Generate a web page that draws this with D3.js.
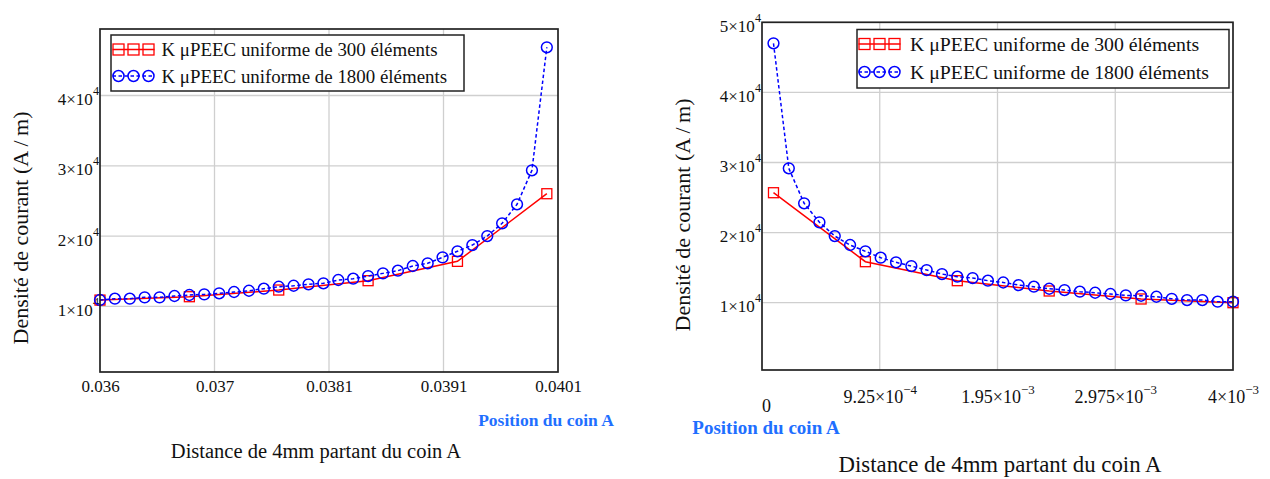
<!DOCTYPE html>
<html>
<head>
<meta charset="utf-8">
<script src="https://cdn.jsdelivr.net/npm/d3@7"></script>
<style>
  html, body { margin: 0; padding: 0; background: #fff; }
  svg { display: block; font-family: "Liberation Serif", "Times New Roman", serif; }
  svg text { font-family: "Liberation Serif", "Times New Roman", serif; }
</style>
</head>
<body>
<svg id="chart" width="1270" height="479"></svg>
<script>
// ---------------- DATA ----------------
const seriesNames = ["K \u03bcPEEC uniforme de 300 \u00e9l\u00e9ments", "K \u03bcPEEC uniforme de 1800 \u00e9l\u00e9ments"];

// Left chart (x in m)
const leftX300 = [0.036, 0.0368, 0.0376, 0.0384, 0.0392, 0.0400];
const leftK300 = [10900, 11380, 12330, 13660, 16410, 26030];
const leftX1800 = [0.036, 0.0361333, 0.0362667, 0.0364, 0.0365333, 0.0366667, 0.0368, 0.0369333, 0.0370667, 0.0372,
  0.0373333, 0.0374667, 0.0376, 0.0377333, 0.0378667, 0.038, 0.0381333, 0.0382667, 0.0384, 0.0385333,
  0.0386667, 0.0388, 0.0389333, 0.0390667, 0.0392, 0.0393333, 0.0394667, 0.0396, 0.0397333, 0.0398667, 0.04];
const leftK1800 = [10910, 11100, 11100, 11290, 11290, 11480, 11620, 11710, 11860, 12050,
  12230, 12520, 12800, 12940, 13140, 13290, 13760, 13940, 14320, 14700,
  15080, 15750, 16130, 16980, 17840, 18730, 20010, 21820, 24520, 29360, 46860];
const leftXTicks = [0.036, 0.037025, 0.03805, 0.039075, 0.0401];
const leftXTickLabels = [["0.036", ""], ["0.037", ""], ["0.0381", ""], ["0.0391", ""], ["0.0401", ""]];
const leftYTicks = [10000, 20000, 30000, 40000];
const leftYTickLabels = [["1\u00d710", "4"], ["2\u00d710", "4"], ["3\u00d710", "4"], ["4\u00d710", "4"]];

// Right chart (x in m)
const rightX300 = [0, 0.0008, 0.0016, 0.0024, 0.0032, 0.004];
const rightK300 = [25690, 15850, 13140, 11670, 10530, 10000];
const rightX1800 = [0, 0.0001333, 0.0002667, 0.0004, 0.0005333, 0.0006667, 0.0008, 0.0009333, 0.0010667, 0.0012,
  0.0013333, 0.0014667, 0.0016, 0.0017333, 0.0018667, 0.002, 0.0021333, 0.0022667, 0.0024, 0.0025333,
  0.0026667, 0.0028, 0.0029333, 0.0030667, 0.0032, 0.0033333, 0.0034667, 0.0036, 0.0037333, 0.0038667, 0.004];
const rightK1800 = [47000, 29170, 24180, 21470, 19510, 18230, 17330, 16420, 15760, 15230,
  14660, 14090, 13710, 13520, 13140, 12880, 12520, 12280, 11990, 11800,
  11570, 11420, 11240, 11050, 10990, 10850, 10560, 10380, 10380, 10140, 10140];
const rightXTicks = [-0.0001, 0.000925, 0.00195, 0.002975, 0.004];
const rightXTickLabels = [["0", ""], ["9.25\u00d710", "\u22124"], ["1.95\u00d710", "\u22123"], ["2.975\u00d710", "\u22123"], ["4\u00d710", "\u22123"]];
const rightYTicks = [10000, 20000, 30000, 40000, 50000];
const rightYTickLabels = [["1\u00d710", "4"], ["2\u00d710", "4"], ["3\u00d710", "4"], ["4\u00d710", "4"], ["5\u00d710", "4"]];

const yTitle = "Densit\u00e9 de courant (A\u2009/\u2009m)";
const xTitle = "Distance de 4mm partant du coin A";
const cornerLabel = "Position du coin A";

// ---------------- DRAW ----------------
const svg = d3.select("#chart");
const RED = "#ff0000", BLUE = "#0000ff", GRID = "#cfcfcf", FRAME = "#222";

function panel(cfg) {
  const g = svg.append("g");
  const x = d3.scaleLinear().domain(cfg.xDomain).range([cfg.left, cfg.right]);
  const y = d3.scaleLinear().domain(cfg.yDomain).range([cfg.bottom, cfg.top]);

  // grid
  g.append("g").selectAll("line.vg").data(cfg.xTicks.slice(1, -1)).join("line")
    .attr("x1", d => x(d)).attr("x2", d => x(d)).attr("y1", cfg.top).attr("y2", cfg.bottom)
    .attr("stroke", GRID).attr("stroke-width", 1.3);
  g.append("g").selectAll("line.hg").data(cfg.yTicks).join("line")
    .attr("x1", cfg.left).attr("x2", cfg.right).attr("y1", d => y(d)).attr("y2", d => y(d))
    .attr("stroke", GRID).attr("stroke-width", 1.3);

  // axes: d3 axes give tick positions; labels with superscripts appended
  const xAxis = d3.axisBottom(x).tickValues(cfg.xTicks).tickSize(0).tickFormat("");
  const xa = g.append("g").attr("transform", `translate(0,${cfg.bottom})`).call(xAxis);
  xa.attr("font-size", null).attr("font-family", null);
  xa.select(".domain").remove();
  xa.selectAll(".tick").each(function(d, i) {
    const lab = cfg.xTickLabels[i];
    const sh = (i === 0 && cfg.firstXShift) ? cfg.firstXShift : [0, 0];
    const t = d3.select(this).append("text")
      .style("font-size", cfg.xFs + "px")
      .attr("fill", "#111").attr("text-anchor", "middle")
      .attr("x", sh[0]).attr("y", cfg.xLabelDy + sh[1]);
    t.append("tspan").text(lab[0]);
    if (lab[1]) t.append("tspan").style("font-size", (cfg.xFs * 0.72) + "px").attr("dy", -cfg.xFs * 0.5).text(lab[1]);
  });

  const yAxis = d3.axisLeft(y).tickValues(cfg.yTicks).tickSize(0).tickFormat("");
  const ya = g.append("g").attr("transform", `translate(${cfg.left},0)`).call(yAxis);
  ya.attr("font-size", null).attr("font-family", null);
  ya.select(".domain").remove();
  ya.selectAll(".tick").each(function(d, i) {
    const lab = cfg.yTickLabels[i];
    const t = d3.select(this).append("text")
      .style("font-size", cfg.yFs + "px")
      .attr("fill", "#111").attr("text-anchor", "end")
      .attr("x", -1).attr("y", 9);
    t.append("tspan").text(lab[0]);
    t.append("tspan").style("font-size", (cfg.yFs * 0.72) + "px").attr("dy", -cfg.yFs * 0.58).text(lab[1]);
  });

  // clip
  const cid = "clip" + cfg.id;
  svg.append("clipPath").attr("id", cid).append("rect")
    .attr("x", cfg.left - 7).attr("y", cfg.top).attr("width", cfg.right - cfg.left + 14).attr("height", cfg.bottom - cfg.top);
  const plot = g.append("g").attr("clip-path", `url(#${cid})`);

  const d300 = cfg.x300.map((v, i) => [v, cfg.k300[i]]);
  const d1800 = cfg.x1800.map((v, i) => [v, cfg.k1800[i]]);
  const line = d3.line().x(d => x(d[0])).y(d => y(d[1]));

  plot.append("path").datum(d300).attr("d", line).attr("fill", "none")
    .attr("stroke", RED).attr("stroke-width", 1.5);
  plot.selectAll("rect.sq").data(d300).join("rect")
    .attr("x", d => x(d[0]) - 5).attr("y", d => y(d[1]) - 5).attr("width", 10).attr("height", 10)
    .attr("fill", "none").attr("stroke", RED).attr("stroke-width", 1.3);

  plot.append("path").datum(d1800).attr("d", line).attr("fill", "none")
    .attr("stroke", BLUE).attr("stroke-width", 1.5).attr("stroke-dasharray", "3.5,2.5");
  plot.selectAll("circle.c").data(d1800).join("circle")
    .attr("cx", d => x(d[0])).attr("cy", d => y(d[1])).attr("r", 5.4)
    .attr("fill", "none").attr("stroke", BLUE).attr("stroke-width", 1.5);

  // frame
  g.append("rect").attr("x", cfg.left).attr("y", cfg.top)
    .attr("width", cfg.right - cfg.left).attr("height", cfg.bottom - cfg.top)
    .attr("fill", "none").attr("stroke", FRAME).attr("stroke-width", 1.7);

  // legend
  const L = cfg.legend;
  g.append("rect").attr("x", L.x0).attr("y", L.y0).attr("width", L.x1 - L.x0).attr("height", L.y1 - L.y0)
    .attr("fill", "#fff").attr("stroke", FRAME).attr("stroke-width", 1.5);
  const mk = [L.mx + 6, L.mx + 21, L.mx + 36];
  [0, 1].forEach(s => {
    const cy = L.rows[s];
    const col = s === 0 ? RED : BLUE;
    g.append("line").attr("x1", L.mx).attr("x2", L.mx + 42).attr("y1", cy).attr("y2", cy)
      .attr("stroke", col).attr("stroke-width", 1.5).attr("stroke-dasharray", s === 1 ? "3.5,2.5" : null);
    mk.forEach(mx => {
      if (s === 0) {
        g.append("rect").attr("x", mx - 5.5).attr("y", cy - 5.5).attr("width", 11).attr("height", 11)
          .attr("fill", "none").attr("stroke", col).attr("stroke-width", 1.3);
      } else {
        g.append("circle").attr("cx", mx).attr("cy", cy).attr("r", 5.5)
          .attr("fill", "none").attr("stroke", col).attr("stroke-width", 1.5);
      }
    });
    g.append("text").attr("x", L.tx).attr("y", cy + 6.5).style("font-size", L.fs + "px").attr("fill", "#111")
      .text(seriesNames[s]);
  });

  // titles
  g.append("text").attr("transform", `translate(${cfg.yTitle[0]},${cfg.yTitle[1]}) rotate(-90)`)
    .attr("text-anchor", "middle").attr("dominant-baseline", "central")
    .style("font-size", cfg.yTitleFs + "px").attr("fill", "#111").text(yTitle);
  g.append("text").attr("x", cfg.xTitle[0]).attr("y", cfg.xTitle[1]).attr("text-anchor", "middle")
    .style("font-size", cfg.xTitleFs + "px").attr("fill", "#111").text(xTitle);
  g.append("text").attr("x", cfg.corner[0]).attr("y", cfg.corner[1]).attr("text-anchor", "middle")
    .style("font-size", cfg.cornerFs + "px").attr("font-weight", "bold").attr("fill", "#1f6fff").text(cornerLabel);
}

panel({
  id: "L", left: 100, right: 558, top: 29, bottom: 372,
  xDomain: [0.036, 0.0401], yDomain: [670, 49460],
  xTicks: leftXTicks, xTickLabels: leftXTickLabels, xLabelDy: 20, xFs: 17,
  yTicks: leftYTicks, yTickLabels: leftYTickLabels, yFs: 17,
  x300: leftX300, k300: leftK300, x1800: leftX1800, k1800: leftK1800,
  legend: { x0: 111, x1: 464, y0: 35, y1: 91, mx: 112.5, tx: 161.5, rows: [49.5, 76], fs: 18.9 },
  yTitle: [20, 228], yTitleFs: 22,
  xTitle: [316, 458], xTitleFs: 20.5,
  corner: [546, 426], cornerFs: 17.5
});

panel({
  id: "R", left: 762, right: 1233, top: 22.3, bottom: 370,
  xDomain: [-0.0001, 0.004], yDomain: [400, 50000],
  xTicks: rightXTicks, xTickLabels: rightXTickLabels, xLabelDy: 33, xFs: 18, firstXShift: [4, 9],
  yTicks: rightYTicks, yTickLabels: rightYTickLabels, yFs: 17,
  x300: rightX300, k300: rightK300, x1800: rightX1800, k1800: rightK1800,
  legend: { x0: 857, x1: 1229, y0: 29.5, y1: 88, mx: 858.5, tx: 910, rows: [44, 72], fs: 19.8 },
  yTitle: [682, 215], yTitleFs: 22,
  xTitle: [1000, 472], xTitleFs: 22.8,
  corner: [766, 434], cornerFs: 19
});
</script>
</body>
</html>
